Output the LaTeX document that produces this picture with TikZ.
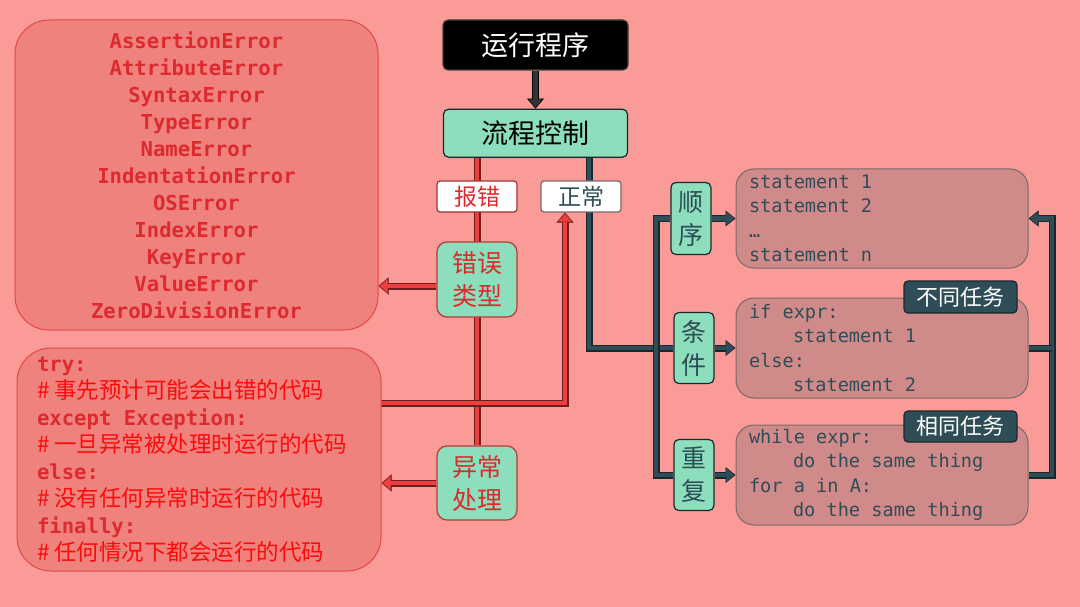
\documentclass[tikz,border=0pt]{standalone}
\usepackage{fontspec}
\newfontfamily\cjk{Noto Sans CJK SC}
\newfontfamily\codefont{DejaVu Sans Mono}
\usetikzlibrary{arrows.meta,positioning}
\definecolor{bgpink}{RGB}{251,155,151}
\definecolor{listred}{RGB}{240,130,126}
\definecolor{listedge}{RGB}{226,72,72}
\definecolor{coderose}{RGB}{208,138,137}
\definecolor{codeedge}{RGB}{120,105,105}
\definecolor{mint}{RGB}{140,222,188}
\definecolor{slate}{RGB}{47,77,87}
\definecolor{slateedge}{RGB}{25,40,45}
\definecolor{pipered}{RGB}{238,62,62}
\definecolor{pipeedge}{RGB}{110,30,30}
\definecolor{errtext}{RGB}{220,42,46}
\definecolor{hotred}{RGB}{250,12,12}
\pgfdeclarelayer{bg}
\pgfdeclarelayer{links}
\pgfsetlayers{bg,links,main}
\newcommand\indt{\hspace*{44pt}}
\newcommand\cmt[1]{{\cjk\mdseries\fontsize{22.5}{27}\selectfont\color{hotred}\#\hspace*{5pt}#1}}

\begin{document}
\begin{tikzpicture}[x=1pt, y=-1pt,
    darkbox/.style={draw=black!75, fill=black, rounded corners=5pt, line width=1.2pt,
                    inner sep=0pt, text=white, font=\cjk\fontsize{27}{33}\selectfont},
    greenbox/.style={draw=slateedge, fill=mint, rounded corners=5pt, line width=1.2pt,
                     inner sep=0pt, align=center, text=slate, font=\cjk\fontsize{25}{33}\selectfont},
    redgreen/.style={greenbox, draw=listedge!80!black, text=errtext, rounded corners=10pt,
                     minimum width=80pt, minimum height=75pt},
    branchbox/.style={greenbox, minimum width=40pt, minimum height=72pt},
    labelbox/.style={draw=codeedge, fill=white, rounded corners=3pt, line width=1.2pt, inner sep=0pt,
                     minimum width=80pt, minimum height=31pt, font=\cjk\fontsize{23}{27}\selectfont},
    tagbox/.style={draw=slateedge, fill=slate, rounded corners=4pt, line width=1.2pt, inner sep=0pt,
                   minimum width=113pt, minimum height=32pt, text=white, font=\cjk\fontsize{22}{26}\selectfont},
    listbox/.style={draw=listedge, fill=listred, rounded corners=34pt, line width=1pt, inner ysep=0pt},
    fixspace/.style={execute at begin node={\spaceskip=0pt\xspaceskip=0pt}},
    codebox/.style={draw=codeedge, fill=coderose, rounded corners=18pt, line width=1pt,
                    minimum width=292pt, minimum height=99pt, text width=266pt, inner xsep=13pt,
                    inner ysep=0pt, align=left, text=slate, fixspace,
                    font=\codefont\fontsize{18.6}{24.3}\selectfont},
    redpipe/.style={draw=pipeedge, line width=7pt, line join=miter,
                    postaction={draw=pipered, line width=4.6pt}},
    redarrow/.style={draw=pipeedge, line width=7pt, line join=miter,
                     -{Triangle[length=10pt,width=17pt,line width=0.5pt]},
                     postaction={draw=pipered, line width=4.6pt,
                                 -{Triangle[length=7.8pt,width=13.4pt,line width=0.5pt]}, shorten >=1.3pt}},
    slatepipe/.style={draw=slateedge, line width=7pt, line join=miter,
                      postaction={draw=slate, line width=4.6pt}},
    slatearrow/.style={draw=slateedge, line width=7pt, line join=miter,
                       -{Triangle[length=10pt,width=16pt,line width=0.5pt]},
                       postaction={draw=slate, line width=4.6pt,
                                   -{Triangle[length=7.8pt,width=12.6pt,line width=0.5pt]}, shorten >=1.3pt}},
    blackarrow/.style={draw=black, line width=7pt,
                       -{Triangle[length=10pt,width=17pt,line width=0.5pt]},
                       postaction={draw=black!80, line width=4.6pt,
                                   -{Triangle[length=7.8pt,width=13.4pt,line width=0.5pt]}, shorten >=1.3pt}}
  ]
  \useasboundingbox (0,0) rectangle (1080,607);
  \begin{pgfonlayer}{bg}
    \fill[bgpink] (0,0) rectangle (1080,607);
  \end{pgfonlayer}

  % program and flow control
  \node[darkbox, minimum width=185pt, minimum height=50pt] (run) at (535.5,45) {运行程序};
  \node[greenbox, below=38pt of run, minimum width=184pt, minimum height=48pt, text=black,
        font=\cjk\fontsize{27}{33}\selectfont] (flow) {流程控制};

  % error side
  \node[labelbox, draw=listedge!70!black, text=errtext] (report) at (477,196.5) {报错};
  \node[labelbox, text=slate] (okay) at (581,196.5) {正常};
  \node[redgreen] (errtype) at (477,279.5) {错误\\类型};
  \node[redgreen, minimum height=74pt] (handle) at (477,483) {异常\\处理};

  % exception names
  \node[listbox, minimum width=363pt, minimum height=310pt, align=center, text=errtext,
        font=\codefont\bfseries\fontsize{20.6}{27}\selectfont] (errlist) at (196.5,175)
    {AssertionError\\AttributeError\\SyntaxError\\TypeError\\NameError\\IndentationError\\
     OSError\\IndexError\\KeyError\\ValueError\\ZeroDivisionError};

  % try block
  \node[listbox, minimum height=223pt, text width=324pt, inner xsep=20pt, align=left, text=errtext,
        fixspace, font=\codefont\bfseries\fontsize{20.6}{27}\selectfont] (trybox) at (199,459.5)
    {try:\\\cmt{事先预计可能会出错的代码}\\except Exception:\\\cmt{一旦异常被处理时运行的代码}\\
     else:\\\cmt{没有任何异常时运行的代码}\\finally:\\\cmt{任何情况下都会运行的代码}};

  % normal flow
  \node[codebox] (seqcode) at (882,218.5) {statement 1\\statement 2\\…\\statement n};
  \node[codebox, below=29pt of seqcode, minimum height=100pt] (ifcode)
    {if expr:\\\indt statement 1\\else:\\\indt statement 2};
  \node[codebox, below=26pt of ifcode, minimum height=100pt] (loopcode)
    {while expr:\\\indt do the same thing\\for a in A:\\\indt do the same thing};
  \node[branchbox, left=24pt of seqcode] (order) {顺\\序};
  \node[branchbox, left=21pt of ifcode, minimum height=71pt] (cond) {条\\件};
  \node[branchbox, left=21pt of loopcode, minimum height=71pt] (loopbr) {重\\复};
  \node[tagbox] (difftask) at (960.5,297) {不同任务};
  \node[tagbox, minimum height=31pt] (sametask) at (960.5,426.5) {相同任务};

  \coordinate (okdrop) at (589,156);
  \coordinate (trunk) at (656,350);
  \coordinate (loopx) at (1052,350);
  \coordinate (tryout) at (381,403);
  \coordinate (okup) at ([xshift=-16pt]okay.south);

  \begin{pgfonlayer}{links}
    \draw[blackarrow] (run) -- (flow);
    \draw[redpipe] (flow.south -| handle) -- (handle);
    \draw[redarrow] (errtype.west |- 0,286) -- (errlist.east |- 0,286);
    \draw[redarrow] (handle.west) -- (handle.west -| trybox.east);
    \draw[redarrow] (tryout) -| (okup);
    \draw[slatepipe] (okdrop) |- (cond.west);
    \draw[slatepipe] (order.west) -| (trunk) |- (loopbr.west);
    \draw[slatearrow] (order.east) -- (order.east -| seqcode.west);
    \draw[slatearrow] (cond.east) -- (cond.east -| ifcode.west);
    \draw[slatearrow] (loopbr.east) -- (loopbr.east -| loopcode.west);
    \draw[slatearrow] (loopcode.east) -| (loopx) |- (seqcode.east);
    \draw[slatepipe] (ifcode.east) -- (ifcode.east -| loopx);
  \end{pgfonlayer}
\end{tikzpicture}
\end{document}
